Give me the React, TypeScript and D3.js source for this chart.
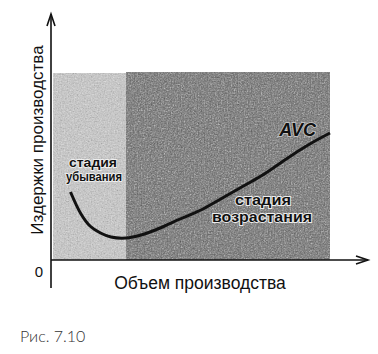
import React from "react";
import * as d3 from "d3";

const quantity = [6.5, 10, 13, 16.5, 20, 25, 30, 36, 43, 50, 56, 63, 70, 76, 83, 88, 93];
const avcCost = [34, 23, 17, 13.5, 11.5, 11, 12.5, 15.75, 20.5, 25, 30, 36, 42, 48, 55, 59.5, 63.5];
const stages = [
  { name: "убывания", x0: 0.7, x1: 25, top: 93.5 },
  { name: "возрастания", x0: 25, x1: 93, top: 94 },
];
const yLabel = "Издержки производства";
const xLabel = "Объем производства";
const caption = "Рис. 7.10";

export default function App() {
  const W = 378, H = 354;
  const x = d3.scaleLinear().domain([0, 100]).range([51, 351]);
  const y = d3.scaleLinear().domain([0, 100]).range([260, 60]);
  const line = d3.line<number>().x((_, i) => x(quantity[i])).y((d) => y(d)).curve(d3.curveCatmullRom.alpha(0.5));
  const fills = ["#cacaca", "#6d6d6d"];
  const halo: React.CSSProperties = { paintOrder: "stroke" } as any;
  return (
    <svg width={W} height={H} style={{ position: "absolute", left: 0, top: 0, background: "#fff" }}
      fontFamily="'Liberation Sans', Arial, sans-serif">
      <defs>
        <filter id="grain" x="0" y="0" width="100%" height="100%">
          <feTurbulence type="fractalNoise" baseFrequency="0.7" numOctaves="2" seed="3" result="n" />
          <feColorMatrix in="n" type="saturate" values="0" result="g" />
          <feComposite in="g" in2="SourceGraphic" operator="in" result="gc" />
          <feBlend in="SourceGraphic" in2="gc" mode="soft-light" />
        </filter>
      </defs>
      {stages.map((s, i) => (
        <rect key={s.name} x={x(s.x0)} y={y(s.top)} width={x(s.x1) - x(s.x0)} height={y(0) - y(s.top)}
          fill={fills[i]} filter="url(#grain)" />
      ))}
      <path d={line(avcCost) || ""} fill="none" stroke="#111" strokeWidth={3} />
      <text x={316} y={136} textAnchor="end" fontWeight="bold" fontStyle="italic" fontSize={18}
        fill="#111" stroke="#ccc" strokeWidth={1.5} style={halo}>AVC</text>
      <g fontWeight="bold" fill="#111" stroke="#eee" strokeWidth={1.8} style={halo} textAnchor="middle">
        <text x={93} y={167} fontSize={13} textLength={48} lengthAdjust="spacingAndGlyphs">стадия</text>
        <text x={94} y={181} fontSize={13} textLength={56} lengthAdjust="spacingAndGlyphs">убывания</text>
        <text x={263} y={205} fontSize={14} textLength={56} lengthAdjust="spacingAndGlyphs">стадия</text>
        <text x={262} y={222} fontSize={14} textLength={100} lengthAdjust="spacingAndGlyphs">возрастания</text>
      </g>
      {/* axes */}
      <g stroke="#111" strokeWidth={1.6} fill="none">
        <line x1={x(0)} y1={288} x2={x(0)} y2={14} />
        <path d={`M${x(0) - 4},${26} L${x(0)},${14} L${x(0) + 4},${26}`} />
        <line x1={x(0)} y1={y(0)} x2={368} y2={y(0)} />
        <path d={`M${356},${y(0) - 4} L${368},${y(0)} L${356},${y(0) + 4}`} />
      </g>
      <text x={39} y={277} textAnchor="middle" fontSize={15} fill="#111">0</text>
      <text x={200} y={289} textAnchor="middle" fontSize={17.5} fill="#111">{xLabel}</text>
      <text transform={`translate(43,140) rotate(-90)`} textAnchor="middle" fontSize={17} fill="#111">{yLabel}</text>
      <text x={20} y={342} fontSize={16} fontFamily="Lato, 'Open Sans', sans-serif" fontWeight={300} fill="#333">{caption}</text>
    </svg>
  );
}
